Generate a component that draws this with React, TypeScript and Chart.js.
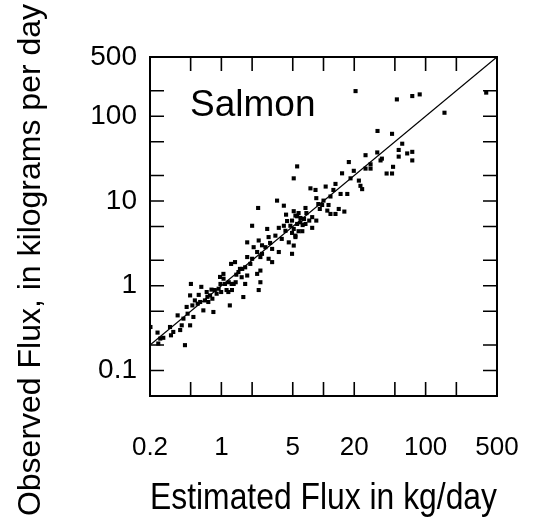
import { useEffect, useRef } from "react";
import { Chart, registerables } from "chart.js";

Chart.register(...registerables);

// Estimated vs. observed daily flux (kg/day), one pair per sample
const estimatedFlux = [
  0.202, 0.237, 0.27, 0.241, 0.314, 0.321, 0.338, 0.373, 0.395, 0.409,
  0.44, 0.425, 0.457, 0.467, 0.494, 0.494, 0.503, 0.52, 0.532, 0.55,
  0.586, 0.62, 0.636, 0.666, 0.69, 0.718, 0.745, 0.775, 0.816, 0.835,
  0.862, 0.899, 0.97, 0.995, 1.047, 1.085, 1.124, 1.17, 1.21, 1.245,
  1.26, 1.36, 1.38, 1.47, 1.52, 1.58, 1.64, 1.71, 1.71, 3.51,
  4.09, 2.29, 5.11, 6.66, 5.31, 5.95, 6.45, 7.25, 7.75, 2.0,
  2.81, 3.65, 4.09, 4.74, 5.52, 6.2, 4.92, 3.38, 5.31, 2.32,
  2.9, 1.79, 4.57, 5.11, 2.07, 2.7, 3.14, 3.65, 4.92, 2.24,
  2.41, 2.0, 1.79, 3.14, 2.9, 1.6, 1.79, 2.24, 2.41, 1.05,
  0.98, 1.18, 1.32, 0.94, 1.27, 2.41, 2.32, 5.52, 5.11, 17.7,
  25.8, 33.6, 36.2, 28.9, 19.8, 25.8, 15.2, 18.4, 22.2, 23.0,
  23.9, 13.1, 10.5, 12.5, 7.45, 8.35, 14.7, 17.1, 11.7, 8.5,
  10.0, 9.7, 11.2, 9.2, 10.9, 11.7, 13.1, 14.1, 16.0, 5.52,
  7.75, 8.5, 4.92, 5.95, 6.66, 5.11, 5.7, 5.31, 20.6, 52.3,
  74, 87.5, 392, 153, 33.8, 46.9, 59, 54.5, 66, 74,
  54.5, 37.3, 74, 28.9, 48, 41.5, 46.9, 0.252, 5.7, 6.8,
  6.25, 4.4, 2.5, 3.0, 2.5, 1.92, 0.73, 0.6, 0.8, 1.4,
  3.9, 4.24, 8.9, 4.3,
];

const observedFlux = [
  0.326, 0.28, 0.243, 0.208, 0.326, 0.26, 0.285, 0.447, 0.3, 0.341,
  0.199, 0.409, 0.562, 0.468, 0.341, 0.769, 1.05, 0.586, 0.428, 0.671,
  0.614, 0.643, 0.97, 0.512, 0.671, 0.843, 0.643, 0.769, 0.703, 0.49,
  0.89, 0.805, 1.27, 0.843, 1.38, 1.05, 0.89, 0.843, 0.586, 1.81,
  1.05, 1.9, 1.1, 1.45, 1.58, 1.26, 0.736, 1.65, 1.05, 10.1,
  8.8, 8.27, 7.58, 8.27, 6.72, 6.3, 6.14, 5.87, 4.82, 5.1,
  4.68, 4.82, 5.1, 5.1, 5.36, 4.4, 4.2, 3.9, 3.75, 3.42,
  3.75, 3.25, 3.25, 2.98, 2.85, 2.85, 2.72, 2.5, 2.38, 2.5,
  2.18, 2.08, 2.18, 1.9, 2.08, 1.58, 1.32, 1.38, 1.51, 1.21,
  1.05, 1.1, 1.05, 0.922, 0.89, 1.1, 0.89, 25.6, 18.5, 28.8,
  34.7, 37.4, 30.1, 27.1, 22.7, 24.1, 21.2, 18.5, 17.4, 15.1,
  13.8, 15.9, 14.8, 13.5, 14.1, 13.5, 12.1, 12.1, 11.3, 10.8,
  10.1, 8.97, 8.97, 8.05, 7.7, 7.03, 7.03, 8.05, 7.5, 6.6,
  6.45, 5.87, 5.87, 5.6, 5.36, 4.68, 4.4, 3.9, 198, 158,
  173, 181, 190, 110, 67, 62, 47.4, 40.0, 36.4, 38.0,
  33.4, 31.6, 30.1, 24.1, 25.3, 21.1, 21.1, 0.238, 7.2, 7.2,
  5.2, 5.8, 3.0, 3.2, 2.38, 1.81, 0.74, 0.78, 0.9, 1.35,
  3.57, 4.45, 9.2, 6.9,
];

// 1:1 line of equality
const equalityLine = [0.2, 500];

const xTickLabels = [0.2, 1, 5, 20, 100, 500];
const yTickLabels = [0.1, 1, 10, 100, 500];
const xTickMarks = [0.5, 1, 2, 5, 10, 20, 50, 100, 200];
const yTickMarks = [0.1, 0.2, 0.5, 1, 2, 5, 10, 20, 50, 100, 200];

const xRange = [0.2, 500];
const yRange = [0.05, 500];

const panelLabel = "Salmon";
const xTitle = "Estimated Flux in kg/day";
const yTitle = "Observed Flux, in kilograms per day";

const FONT = "'Liberation Sans', Arial, Helvetica, sans-serif";

// Boxed frame with inward tick marks on all four sides, plus the panel
// label and the vertical axis title.
const frameAndLabels = {
  id: "frameAndLabels",
  afterDatasetsDraw(chart: any) {
    const { ctx, chartArea: a, scales } = chart;
    const len = 14;
    ctx.save();
    ctx.strokeStyle = "#000";
    ctx.lineWidth = 1.6;
    ctx.beginPath();
    for (const v of xTickMarks) {
      const px = scales.x.getPixelForValue(v);
      ctx.moveTo(px, a.bottom);
      ctx.lineTo(px, a.bottom - len);
      ctx.moveTo(px, a.top);
      ctx.lineTo(px, a.top + len);
    }
    for (const v of yTickMarks) {
      const py = scales.y.getPixelForValue(v);
      ctx.moveTo(a.left, py);
      ctx.lineTo(a.left + len, py);
      ctx.moveTo(a.right, py);
      ctx.lineTo(a.right - len, py);
    }
    ctx.stroke();
    ctx.lineWidth = 2;
    ctx.strokeRect(a.left, a.top, a.right - a.left, a.bottom - a.top);

    ctx.fillStyle = "#000";
    ctx.font = `37px ${FONT}`;
    ctx.textAlign = "left";
    ctx.textBaseline = "alphabetic";
    ctx.fillText(panelLabel, a.left + 40, a.top + 59);

    ctx.translate(31, 260);
    ctx.rotate(-Math.PI / 2);
    ctx.font = `32px ${FONT}`;
    ctx.textAlign = "center";
    ctx.textBaseline = "middle";
    ctx.fillText(yTitle, 0, 0);
    ctx.restore();
  },
};

export default function App() {
  const canvasRef = useRef<HTMLCanvasElement | null>(null);

  useEffect(() => {
    const canvas = canvasRef.current;
    if (!canvas) return;

    const points = estimatedFlux.map((x, i) => ({ x, y: observedFlux[i] }));
    const line = equalityLine.map((v) => ({ x: v, y: v }));

    const chart = new Chart(canvas, {
      type: "scatter",
      data: {
        datasets: [
          {
            label: "1:1",
            data: line,
            showLine: true,
            borderColor: "#000",
            borderWidth: 1.3,
            pointRadius: 0,
            fill: false,
          },
          {
            label: panelLabel,
            data: points,
            pointStyle: "rect",
            pointRadius: 2.9,
            pointHoverRadius: 2.9,
            backgroundColor: "#000",
            borderWidth: 0,
          },
        ],
      },
      options: {
        animation: false,
        responsive: false,
        devicePixelRatio: 1,
        layout: { padding: { top: 57, right: 38, left: 0, bottom: 0 } },
        plugins: {
          legend: { display: false },
          tooltip: { enabled: false },
        },
        scales: {
          x: {
            type: "logarithmic",
            position: "bottom",
            min: xRange[0],
            max: xRange[1],
            afterBuildTicks: (s: any) => {
              s.ticks = xTickLabels.map((value) => ({ value }));
            },
            afterFit: (s: any) => {
              s.height = 129;
              s.paddingLeft = 0;
              s.paddingRight = 0;
            },
            grid: { display: false, drawTicks: false },
            border: { display: false },
            ticks: {
              autoSkip: false,
              maxRotation: 0,
              padding: 36,
              color: "#000",
              font: { size: 26, family: FONT },
              callback: (v: any) => String(v),
            },
            title: {
              display: true,
              text: xTitle,
              color: "#000",
              font: { size: 36, family: FONT },
              padding: { top: 0, bottom: 4 },
            },
          },
          y: {
            type: "logarithmic",
            position: "left",
            min: yRange[0],
            max: yRange[1],
            afterBuildTicks: (s: any) => {
              s.ticks = yTickLabels.map((value) => ({ value }));
            },
            afterFit: (s: any) => {
              s.width = 150;
              s.paddingTop = 0;
              s.paddingBottom = 0;
            },
            grid: { display: false, drawTicks: false },
            border: { display: false },
            ticks: {
              autoSkip: false,
              padding: 13,
              color: "#000",
              font: { size: 28, family: FONT },
              callback: (v: any) => String(v),
            },
          },
        },
      },
      plugins: [frameAndLabels],
    });

    return () => chart.destroy();
  }, []);

  return (
    <div style={{ position: "fixed", left: 0, top: 0, width: 535, height: 525, background: "#fff" }}>
      <canvas ref={canvasRef} width={535} height={525} style={{ width: 535, height: 525, display: "block" }} />
    </div>
  );
}
